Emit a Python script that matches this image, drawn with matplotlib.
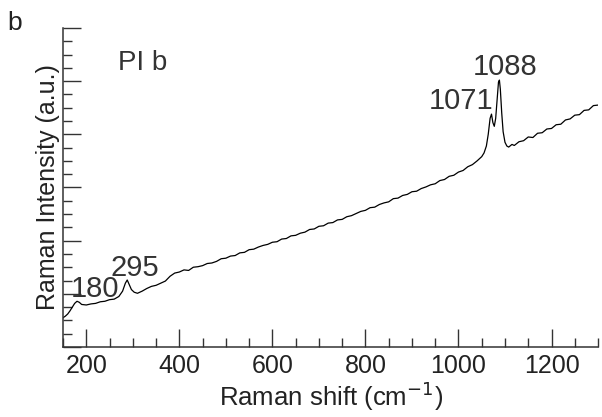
import numpy as np
import matplotlib.pyplot as plt
from matplotlib.ticker import MultipleLocator, NullFormatter

plt.rcParams['font.family'] = ['Liberation Sans', 'DejaVu Sans']

# Raman spectrum (shift in cm-1, intensity in a.u.)
shift = [150, 155, 160, 165, 170, 175, 180, 185, 190, 200, 210, 220, 230, 240,
         250, 260, 270, 278, 284, 288, 292, 297, 303, 310, 320, 330, 340, 350,
         360, 370, 380, 390,
         400, 410, 420, 430, 440, 450, 460, 470, 480, 490, 500, 510, 520, 530,
         540, 550, 560, 570, 580, 590, 600, 610, 620, 630, 640, 650, 660, 670,
         680, 690, 700, 710, 720, 730, 740, 750, 760, 770, 780, 790, 800, 810,
         820, 830, 840, 850, 860, 870, 880, 890, 900, 910, 920, 930, 940, 950,
         960, 970, 980, 990, 1000, 1010, 1020, 1030, 1040,
         1050, 1055, 1060, 1064, 1068, 1071, 1074, 1077, 1080, 1083, 1086, 1088,
         1090, 1093, 1096, 1100, 1104, 1108,
         1115, 1120, 1130, 1140, 1150, 1160, 1170, 1180, 1190, 1200, 1210, 1220,
         1230, 1240, 1250, 1260, 1270, 1280, 1290, 1300]
intensity = [0.55, 0.58, 0.62, 0.68, 0.75, 0.82, 0.86, 0.84, 0.80, 0.79, 0.81,
             0.82, 0.85, 0.86, 0.89, 0.90, 0.95, 1.05, 1.20, 1.26, 1.18, 1.08,
             1.03, 1.01, 1.05, 1.10, 1.14, 1.16, 1.20, 1.24, 1.33, 1.39,
             1.41, 1.45, 1.44, 1.50, 1.51, 1.53, 1.57, 1.58, 1.61, 1.66, 1.67,
             1.71, 1.72, 1.77, 1.78, 1.83, 1.84, 1.88, 1.91, 1.93, 1.97, 1.98,
             2.03, 2.04, 2.09, 2.10, 2.14, 2.16, 2.21, 2.22, 2.27, 2.28, 2.33,
             2.34, 2.39, 2.40, 2.45, 2.47, 2.51, 2.55, 2.57, 2.62, 2.63, 2.68,
             2.71, 2.73, 2.79, 2.80, 2.85, 2.87, 2.92, 2.93, 2.98, 3.01, 3.05,
             3.07, 3.13, 3.15, 3.21, 3.23, 3.29, 3.32, 3.39, 3.43, 3.50,
             3.58, 3.65, 3.78, 4.00, 4.30, 4.38, 4.22, 4.15, 4.30, 4.65, 4.98,
             5.02, 4.85, 4.40, 4.05, 3.85, 3.78, 3.76,
             3.81, 3.79, 3.86, 3.88, 3.95, 3.94, 4.02, 4.03, 4.10, 4.11, 4.18,
             4.19, 4.27, 4.29, 4.36, 4.37, 4.45, 4.46, 4.54, 4.55]

peak_labels = ['180', '295', '1071', '1088']
peak_text_x = [218, 305, 1006, 1100]
peak_text_y = [1.10, 1.48, 4.62, 5.26]

fig = plt.figure(figsize=(6.02, 4.17), dpi=100)
ax = fig.add_axes([0.1047, 0.1679, 0.8887, 0.765])

ax.plot(shift, intensity, color='black', linewidth=0.9)

for lab, tx, ty in zip(peak_labels, peak_text_x, peak_text_y):
    ax.text(tx, ty, lab, fontsize=21, color='#333333', ha='center', va='center')

ax.text(0.148, 0.89, 'PI b', transform=ax.transAxes, fontsize=20,
        color='#333333', ha='center', va='center')
fig.text(0.025, 0.945, 'b', fontsize=19, color='#222222', ha='center', va='center')

ax.set_xlim(150, 1300)
ax.set_ylim(0, 6)
ax.xaxis.set_major_locator(MultipleLocator(200))
ax.xaxis.set_minor_locator(MultipleLocator(50))
ax.yaxis.set_major_locator(MultipleLocator(1))
ax.yaxis.set_minor_locator(MultipleLocator(0.25))
ax.yaxis.set_major_formatter(NullFormatter())

ax.tick_params(which='major', direction='in', length=13, width=1, colors='#333333',
               labelsize=18, labelcolor='#222222', pad=5)
ax.tick_params(which='minor', direction='in', length=6.5, width=1, colors='#333333')

for side in ['top', 'right']:
    ax.spines[side].set_visible(False)
for side in ['left', 'bottom']:
    ax.spines[side].set_linewidth(1.1)
    ax.spines[side].set_color('#333333')

ax.set_xlabel('Raman shift (cm$^{-1}$)', fontsize=18.5, color='#222222', labelpad=1)
ax.set_ylabel('Raman Intensity (a.u.)', fontsize=18, color='#222222', labelpad=-3)

fig.savefig('out.png', dpi=100)
